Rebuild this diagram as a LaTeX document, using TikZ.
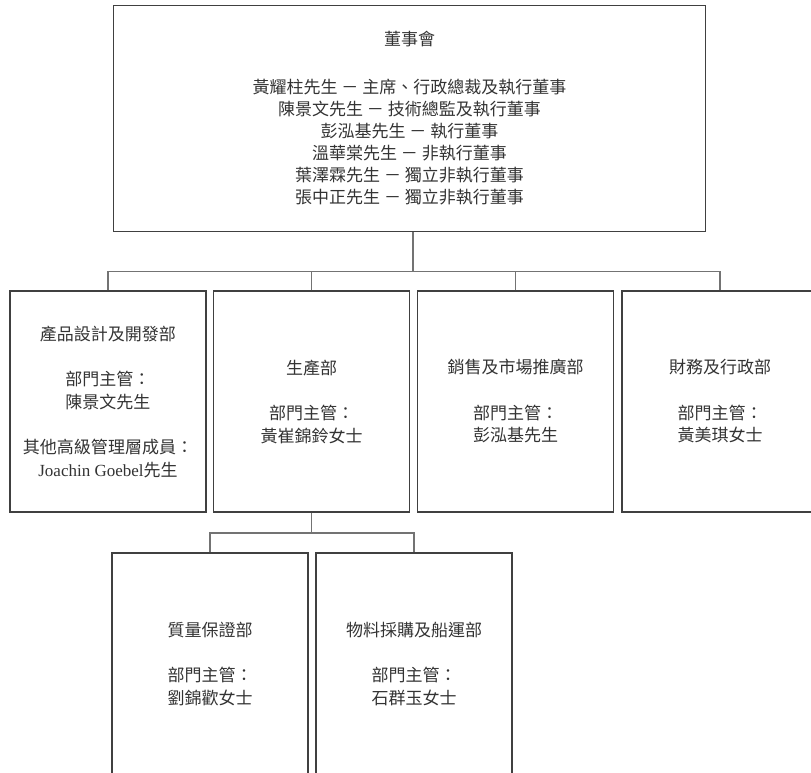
\documentclass[tikz,border=0pt]{standalone}
\usepackage{fontspec}
\setmainfont{Liberation Serif}
\newfontfamily\cjk{Noto Sans CJK TC}
\newfontfamily\latn{Liberation Serif}
\begin{document}
\begin{tikzpicture}[x=1pt,y=-1pt,
  orgbox/.style={draw=black!75, line width=1.1pt, inner sep=0pt, align=center,
    font=\cjk\fontsize{17}{22.5}\selectfont, text=black!80},
  deptbox/.style={orgbox, minimum width=196pt, minimum height=221pt},
  conn/.style={draw=black!55, line width=1.1pt}]
\useasboundingbox (0,0) rectangle (811,772);
\clip (0,0) rectangle (811,772);
\node[orgbox, minimum width=592pt, minimum height=226pt,
      font=\cjk\fontsize{17}{22}\selectfont] (top) at (409.5,118.5)
  {董事會\\[26pt]
   黃耀柱先生 － 主席、行政總裁及執行董事\\
   陳景文先生 － 技術總監及執行董事\\
   彭泓基先生 － 執行董事\\
   溫華棠先生 － 非執行董事\\
   葉澤霖先生 － 獨立非執行董事\\
   張中正先生 － 獨立非執行董事};
\node[deptbox] (b1) at (108,401.5)
  {產品設計及開發部\\[23pt]部門主管：\\陳景文先生\\[23pt]其他高級管理層成員：\\{\latn Joachin Goebel}先生};
\node[deptbox] (b2) at (311.5,401.5)
  {生產部\\[23pt]部門主管：\\黃崔錦鈴女士};
\node[deptbox] (b3) at (515.5,401.5)
  {銷售及市場推廣部\\[23pt]部門主管：\\彭泓基先生};
\node[deptbox] (b4) at (720,401.5)
  {財務及行政部\\[23pt]部門主管：\\黃美琪女士};
\node[deptbox, minimum height=222pt] (b5) at (210,664)
  {質量保證部\\[23pt]部門主管：\\劉錦歡女士};
\node[deptbox, minimum height=222pt] (b6) at (414,664)
  {物料採購及船運部\\[23pt]部門主管：\\石群玉女士};
\coordinate (j0) at (413,271.5);
\coordinate (j1) at (311.5,533);
\draw[conn] (top.south -| j0) -- (j0);
\draw[conn] (b1.north) -- (b1.north |- j0) -- (b4.north |- j0) -- (b4.north);
\draw[conn] (b2.north) -- (b2.north |- j0);
\draw[conn] (b3.north) -- (b3.north |- j0);
\draw[conn] (b2.south) -- (j1);
\draw[conn] (b5.north) -- (b5.north |- j1) -- (b6.north |- j1) -- (b6.north);
\end{tikzpicture}
\end{document}
